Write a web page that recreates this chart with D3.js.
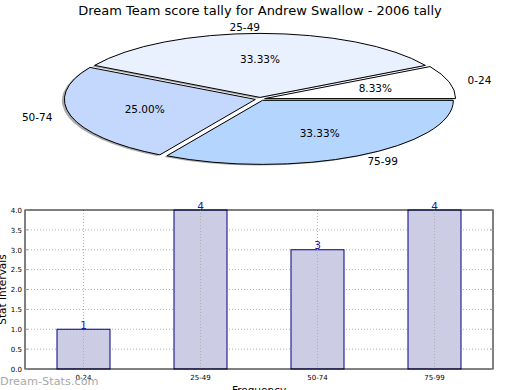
<!DOCTYPE html>
<html>
<head>
<meta charset="utf-8">
<script src="https://cdn.jsdelivr.net/npm/d3@7"></script>
<style>
  body { margin: 0; background: #fff; }
  svg { display: block; font-family: "DejaVu Sans", sans-serif; }
</style>
</head>
<body>
<svg width="520" height="390"></svg>
<script>
// data
var categories = ["0-24", "25-49", "50-74", "75-99"];
var counts = [1, 4, 3, 4];
var pieColors = ["#ffffff", "#eaf1fe", "#c4d8fe", "#b4d5fe"];
var yTicks = [0, 0.5, 1, 1.5, 2, 2.5, 3, 3.5, 4];

var svg = d3.select("svg");

svg.append("text")
    .attr("x", 260).attr("y", 15)
    .attr("text-anchor", "middle")
    .style("font-size", "13px")
    .text("Dream Team score tally for Andrew Swallow - 2006 tally");

// ---- pie (squashed to an ellipse, slices pulled out a little) ----
var cx = 260, cy = 99, rx = 191, ry = 64, explode = 0.025;
var total = d3.sum(counts);

var pie = d3.pie().sort(null)
    .startAngle(Math.PI / 2)
    .endAngle(Math.PI / 2 - 2 * Math.PI);
var arcs = pie(counts);
var arc = d3.arc().innerRadius(0).outerRadius(rx);

var pg = svg.append("g")
    .attr("transform", "translate(" + cx + "," + cy + ") scale(1," + (ry / rx) + ")");

function mid(d) { return (d.startAngle + d.endAngle) / 2; }
function off(d) {
    var a = mid(d);
    return [Math.sin(a) * explode * rx, -Math.cos(a) * explode * rx];
}

// shadows first
pg.selectAll(".shadow")
    .data(arcs)
    .enter().append("path")
    .attr("class", "shadow")
    .attr("d", arc)
    .attr("transform", d => "translate(" + (off(d)[0] - 2.5) + "," + (off(d)[1] + 3.5) + ")")
    .attr("fill", "#555")
    .attr("opacity", 0.5);

pg.selectAll(".slice")
    .data(arcs)
    .enter().append("path")
    .attr("class", "slice")
    .attr("d", arc)
    .attr("transform", d => "translate(" + off(d)[0] + "," + off(d)[1] + ")")
    .attr("fill", (d, i) => pieColors[i])
    .attr("stroke", "#000")
    .attr("stroke-width", 1)
    .attr("vector-effect", "non-scaling-stroke");

// labels outside the scaled group so text is not squashed
function pt(d, k) {
    var a = mid(d), o = off(d);
    return [cx + o[0] + Math.sin(a) * rx * k, cy + (o[1] - Math.cos(a) * rx * k) * ry / rx];
}

svg.selectAll(".pielabel")
    .data(arcs)
    .enter().append("text")
    .attr("class", "pielabel")
    .attr("x", d => pt(d, 1.1)[0])
    .attr("y", d => pt(d, 1.1)[1])
    .attr("dy", "0.35em")
    .attr("text-anchor", d => Math.sin(mid(d)) > 0.001 ? "start" : "end")
    .style("font-size", "10.5px")
    .text((d, i) => categories[i]);

svg.selectAll(".pct")
    .data(arcs)
    .enter().append("text")
    .attr("class", "pct")
    .attr("x", d => pt(d, 0.6)[0])
    .attr("y", d => pt(d, 0.6)[1])
    .attr("dy", "0.35em")
    .attr("text-anchor", "middle")
    .style("font-size", "10.5px")
    .text(d => d3.format(".2f")(d.value / total * 100) + "%");

// ---- bar chart ----
var bLeft = 25, bRight = 493, bTop = 210, bBottom = 369;

var x = d3.scaleBand().domain(categories).range([bLeft, bRight])
    .paddingInner(0.547).paddingOuter(0.2735);
var y = d3.scaleLinear().domain([0, 4]).range([bBottom, bTop]);

var bg = svg.append("g");

// grid
bg.selectAll(".hgrid")
    .data(yTicks.slice(1, -1))
    .enter().append("line")
    .attr("x1", bLeft).attr("x2", bRight)
    .attr("y1", d => y(d)).attr("y2", d => y(d))
    .attr("stroke", "#b0b0b0")
    .attr("stroke-dasharray", "1,2");

bg.selectAll(".bar")
    .data(counts)
    .enter().append("rect")
    .attr("x", (d, i) => x(categories[i]))
    .attr("y", d => y(d))
    .attr("width", x.bandwidth())
    .attr("height", d => bBottom - y(d))
    .attr("fill", "#ccccE4")
    .attr("stroke", "#000080")
    .attr("stroke-width", 1);

bg.selectAll(".vgrid")
    .data(categories)
    .enter().append("line")
    .attr("x1", d => x(d) + x.bandwidth() / 2).attr("x2", d => x(d) + x.bandwidth() / 2)
    .attr("y1", bTop).attr("y2", bBottom)
    .attr("stroke", "#b0b0b0")
    .attr("stroke-dasharray", "1,2");

// frame
bg.append("rect")
    .attr("x", bLeft).attr("y", bTop)
    .attr("width", bRight - bLeft).attr("height", bBottom - bTop)
    .attr("fill", "none").attr("stroke", "#000").attr("stroke-width", 1);

// axes
var yAxis = bg.append("g")
    .attr("transform", "translate(" + bLeft + ",0)")
    .call(d3.axisLeft(y).tickValues(yTicks).tickFormat(d3.format(".1f")).tickSize(0).tickPadding(3));
yAxis.select(".domain").remove();
yAxis.selectAll("text").style("font-size", "7px").style("font-family", "DejaVu Sans");

// inside tick marks on both sides
bg.selectAll(".ytickl")
    .data(yTicks)
    .enter().append("line")
    .attr("x1", bLeft).attr("x2", bLeft + 3)
    .attr("y1", d => y(d)).attr("y2", d => y(d))
    .attr("stroke", "#999");
bg.selectAll(".ytickr")
    .data(yTicks)
    .enter().append("line")
    .attr("x1", bRight - 3).attr("x2", bRight)
    .attr("y1", d => y(d)).attr("y2", d => y(d))
    .attr("stroke", "#999");

var xAxis = bg.append("g")
    .attr("transform", "translate(0," + bBottom + ")")
    .call(d3.axisBottom(x).tickSize(0).tickPadding(6));
xAxis.select(".domain").remove();
xAxis.selectAll("text").style("font-size", "7px").style("font-family", "DejaVu Sans");

// value labels
bg.selectAll(".val")
    .data(counts)
    .enter().append("text")
    .attr("x", (d, i) => x(categories[i]) + x.bandwidth() / 2)
    .attr("y", d => y(d) - 0.5)
    .attr("text-anchor", "middle")
    .style("font-size", "10.5px")
    .attr("fill", "#1a1aa0")
    .text(d => d);

// axis titles
svg.append("text")
    .attr("transform", "translate(6," + ((bTop + bBottom) / 2) + ") rotate(-90)")
    .attr("text-anchor", "middle")
    .style("font-size", "10.5px")
    .text("Stat Intervals");

svg.append("text")
    .attr("x", (bLeft + bRight) / 2).attr("y", 394)
    .attr("text-anchor", "middle")
    .style("font-size", "10.5px")
    .text("Frequency");

// watermark
svg.append("text")
    .attr("x", 0).attr("y", 385)
    .style("font-size", "11.3px")
    .attr("fill", "#a8a8a8")
    .text("Dream-Stats.com");
</script>
</body>
</html>
